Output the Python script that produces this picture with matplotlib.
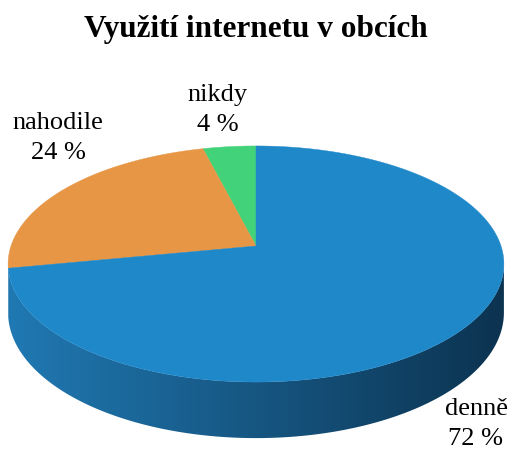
import numpy as np
import matplotlib.pyplot as plt
from matplotlib.patches import Polygon
from matplotlib.colors import LinearSegmentedColormap

plt.rcParams['font.family'] = ['Liberation Serif', 'DejaVu Serif']

# data
labels = ['nikdy', 'nahodile', 'denně']
values = [4, 24, 72]
colors = ['#42d37a', '#e69645', '#1f88c9']
side_light = ['#35b066', '#c97f36', '#2079b3']
side_dark = ['#1c7a45', '#8a5420', '#0c3350']
title = 'Využití internetu v obcích'

W, H = 512, 459
# simple perspective of a flat disk, pixel units (y down)
cx, cy = 256, 246      # projected centre of the disk
A, B = 245, 115.3      # horizontal / vertical scale
q = 0.1525             # perspective strength
D = 47.5               # disk thickness


def project(t, drop=0.0):
    u, v = np.cos(t), np.sin(t)
    w = 1 + q * v
    return cx + A * u / w, cy - B * v / w + drop / w


fig = plt.figure(figsize=(W / 100, H / 100), dpi=100)
ax = fig.add_axes([0, 0, 1, 1])
ax.set_xlim(0, W)
ax.set_ylim(H, 0)
ax.axis('off')

fracs = np.array(values) / sum(values)
edges = 90 + 360 * np.r_[0, np.cumsum(fracs)]

# visible side: from left silhouette point round the front to the right one
s_lo = 180 + np.degrees(np.arcsin(q))
s_hi = 360 - np.degrees(np.arcsin(q))
grad = np.linspace(0, 1, 256).reshape(1, -1)
for i in range(len(values)):
    for off in (0, 360):
        lo = max(edges[i] - off, s_lo)
        hi = min(edges[i + 1] - off, s_hi)
        if hi <= lo:
            continue
        t = np.radians(np.linspace(lo, hi, 200))
        x1, y1 = project(t)
        x2, y2 = project(t, D)
        pts = np.column_stack([np.r_[x1, x2[::-1]], np.r_[y1, y2[::-1]]])
        poly = Polygon(pts, closed=True, facecolor='none', edgecolor='none')
        ax.add_patch(poly)
        cmap = LinearSegmentedColormap.from_list('s', [side_light[i], side_dark[i]])
        im = ax.imshow(grad, cmap=cmap, aspect='auto', zorder=1,
                       extent=[cx - 248, cx + 248, cy + 200, cy])
        im.set_clip_path(poly)

# top face
for i in range(len(values)):
    t = np.radians(np.linspace(edges[i], edges[i + 1], 300))
    x, y = project(t)
    pts = np.column_stack([np.r_[cx, x], np.r_[cy, y]])
    ax.add_patch(Polygon(pts, closed=True, facecolor=colors[i],
                         edgecolor=colors[i], linewidth=0.3, zorder=2))

ax.set_xlim(0, W)
ax.set_ylim(H, 0)

# labels (pixel positions)
label_pos = [(218, 110), (58, 138), (476, 424)]
for lab, v, (px, py) in zip(labels, values, label_pos):
    ax.text(px, py, f'{lab}\n{v} %', ha='center', va='center',
            fontsize=19, linespacing=1.45, zorder=3)

fig.text(256 / W, 1 - 30 / H, title, ha='center', va='center',
         fontsize=22.5, fontweight='bold')

fig.savefig('out.png', dpi=100)
